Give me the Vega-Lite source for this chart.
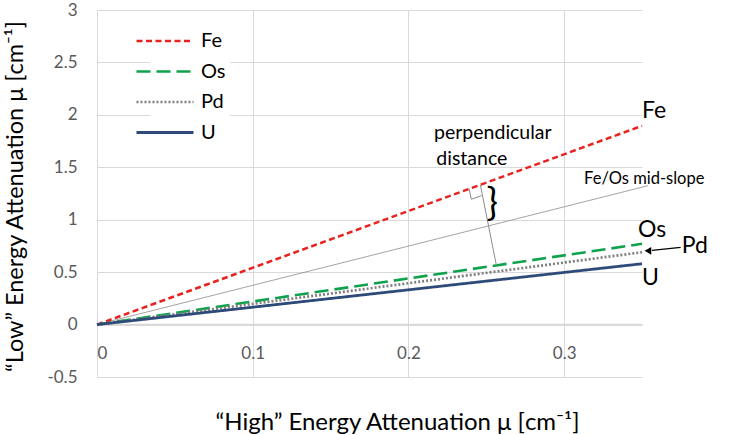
{
  "$schema": "https://vega.github.io/schema/vega-lite/v6.json",
  "width": 545,
  "height": 367,
  "autosize": {"type": "none"},
  "padding": {"left": 97, "top": 10, "right": 91, "bottom": 58},
  "config": {
    "view": {"stroke": null},
    "font": "Lato",
    "axis": {"labelFont": "Lato", "titleFont": "Lato"}
  },
  "datasets": {
    "series": [
      {"series": "Fe", "x": 0, "y": 0},
      {"series": "Fe", "x": 0.35, "y": 1.895},
      {"series": "Os", "x": 0, "y": 0},
      {"series": "Os", "x": 0.35, "y": 0.77},
      {"series": "Pd", "x": 0, "y": 0},
      {"series": "Pd", "x": 0.35, "y": 0.69},
      {"series": "U", "x": 0, "y": 0},
      {"series": "U", "x": 0.35, "y": 0.58}
    ],
    "mid": [{"x": 0, "y": 0}, {"x": 0.354, "y": 1.325}],
    "perp": [{"x": 0.2462, "y": 1.333}, {"x": 0.2565, "y": 0.564}],
    "rightangle": [
      {"x": 0.2389, "y": 1.297, "o": 1},
      {"x": 0.2404, "y": 1.195, "o": 2},
      {"x": 0.2470, "y": 1.230, "o": 3}
    ],
    "arrow": [{"x": 0.3748, "y": 0.736, "x2": 0.3564, "y2": 0.707}],
    "arrowhead": [{"x": 0.3538, "y": 0.703}],
    "endlabels": [
      {"text": "Fe", "x": 0.35, "y": 2.04},
      {"text": "Os", "x": 0.3474, "y": 0.905},
      {"text": "Pd", "x": 0.3756, "y": 0.752},
      {"text": "U", "x": 0.35, "y": 0.448}
    ],
    "midlabel": [{"text": "Fe/Os mid-slope", "x": 0.3128, "y": 1.39}],
    "notes": [
      {"text": "perpendicular", "x": 0.2542, "y": 1.83},
      {"text": "distance", "x": 0.2407, "y": 1.575}
    ],
    "brace": [{"text": "}", "x": 0.2538, "y": 1.152}]
  },
  "layer": [
    {
      "data": {"name": "mid"},
      "mark": {"type": "line", "color": "#8c8c8c", "strokeWidth": 0.8},
      "encoding": {
        "x": {
          "field": "x", "type": "quantitative",
          "scale": {"domain": [0, 0.35], "nice": false, "zero": false},
          "axis": {
            "values": [0, 0.1, 0.2, 0.3],
            "format": "~g",
            "offset": -53,
            "grid": true,
            "gridColor": "#d9d9d9",
            "gridWidth": 1,
            "domain": true,
            "domainColor": "#d9d9d9",
            "domainWidth": 1.3,
            "ticks": false,
            "labelFontSize": 17,
            "labelColor": "#595959",
            "labelPadding": 21,
            "title": "“High” Energy Attenuation μ [cm⁻¹]",
            "titleFontSize": 24,
            "titleFontWeight": "normal",
            "titleColor": "#000000",
            "titleX": 300,
            "titleY": 98,
            "titleAlign": "center",
            "titleBaseline": "middle"
          }
        },
        "y": {
          "field": "y", "type": "quantitative",
          "scale": {"domain": [-0.5, 3], "nice": false, "zero": false},
          "axis": {
            "values": [-0.5, 0, 0.5, 1, 1.5, 2, 2.5, 3],
            "format": "~g",
            "labelExpr": "replace(datum.label, '−', '-')",
            "grid": true,
            "gridColor": "#d9d9d9",
            "gridWidth": 1,
            "domain": false,
            "ticks": false,
            "labelFontSize": 17,
            "labelColor": "#595959",
            "labelPadding": 20,
            "title": "“Low” Energy Attenuation μ [cm⁻¹]",
            "titleFontSize": 23.5,
            "titleFontWeight": "normal",
            "titleColor": "#000000",
            "titleX": -82,
            "titleY": 186,
            "titleAngle": -90,
            "titleAlign": "center",
            "titleBaseline": "middle"
          }
        }
      }
    },
    {
      "data": {"name": "series"},
      "mark": {"type": "line"},
      "encoding": {
        "x": {"field": "x", "type": "quantitative"},
        "y": {"field": "y", "type": "quantitative"},
        "color": {
          "field": "series", "type": "nominal",
          "scale": {"domain": ["Fe", "Os", "Pd", "U"], "range": ["#e8231f", "#0ea24c", "#7f7f7f", "#2e4a78"]},
          "legend": {
            "orient": "none",
            "legendX": 53,
            "legendY": 16,
            "title": null,
            "fillColor": "white",
            "padding": 4,
            "symbolType": "M-3,0L3,0",
            "symbolSize": 361,
            "symbolStrokeWidth": 2.5,
            "labelFont": "Lato",
            "labelFontSize": 20,
            "labelColor": "#000000",
            "labelOffset": 25,
            "rowPadding": 9.5
          }
        },
        "strokeDash": {
          "field": "series", "type": "nominal",
          "scale": {"domain": ["Fe", "Os", "Pd", "U"], "range": [[6, 3.5], [14, 6], [2, 2], [1, 0]]}
        },
        "strokeWidth": {
          "field": "series", "type": "nominal",
          "scale": {"domain": ["Fe", "Os", "Pd", "U"], "range": [2.5, 2.8, 1.6, 2.2]},
          "legend": null
        }
      }
    },
    {
      "data": {"name": "perp"},
      "mark": {"type": "line", "color": "#8c8c8c", "strokeWidth": 1},
      "encoding": {
        "x": {"field": "x", "type": "quantitative"},
        "y": {"field": "y", "type": "quantitative"}
      }
    },
    {
      "data": {"name": "rightangle"},
      "mark": {"type": "line", "color": "#8c8c8c", "strokeWidth": 1},
      "encoding": {
        "x": {"field": "x", "type": "quantitative"},
        "y": {"field": "y", "type": "quantitative"},
        "order": {"field": "o", "type": "quantitative"}
      }
    },
    {
      "data": {"name": "arrow"},
      "mark": {"type": "rule", "color": "#000000", "strokeWidth": 1.3},
      "encoding": {
        "x": {"field": "x", "type": "quantitative"},
        "y": {"field": "y", "type": "quantitative"},
        "x2": {"field": "x2"},
        "y2": {"field": "y2"}
      }
    },
    {
      "data": {"name": "arrowhead"},
      "mark": {"type": "point", "shape": "triangle-left", "filled": true, "color": "#000000", "size": 60, "opacity": 1},
      "encoding": {
        "x": {"field": "x", "type": "quantitative"},
        "y": {"field": "y", "type": "quantitative"}
      }
    },
    {
      "data": {"name": "endlabels"},
      "mark": {"type": "text", "align": "left", "baseline": "middle", "fontSize": 23, "color": "#000000", "font": "Lato"},
      "encoding": {
        "x": {"field": "x", "type": "quantitative"},
        "y": {"field": "y", "type": "quantitative"},
        "text": {"field": "text"}
      }
    },
    {
      "data": {"name": "midlabel"},
      "mark": {"type": "text", "align": "left", "baseline": "middle", "fontSize": 16.5, "color": "#000000", "font": "Lato"},
      "encoding": {
        "x": {"field": "x", "type": "quantitative"},
        "y": {"field": "y", "type": "quantitative"},
        "text": {"field": "text"}
      }
    },
    {
      "data": {"name": "notes"},
      "mark": {"type": "text", "align": "center", "baseline": "middle", "fontSize": 19.5, "color": "#000000", "font": "Lato"},
      "encoding": {
        "x": {"field": "x", "type": "quantitative"},
        "y": {"field": "y", "type": "quantitative"},
        "text": {"field": "text"}
      }
    },
    {
      "data": {"name": "brace"},
      "mark": {"type": "text", "align": "center", "baseline": "middle", "fontSize": 38, "color": "#000000", "font": "Lato"},
      "encoding": {
        "x": {"field": "x", "type": "quantitative"},
        "y": {"field": "y", "type": "quantitative"},
        "text": {"field": "text"}
      }
    }
  ]
}
